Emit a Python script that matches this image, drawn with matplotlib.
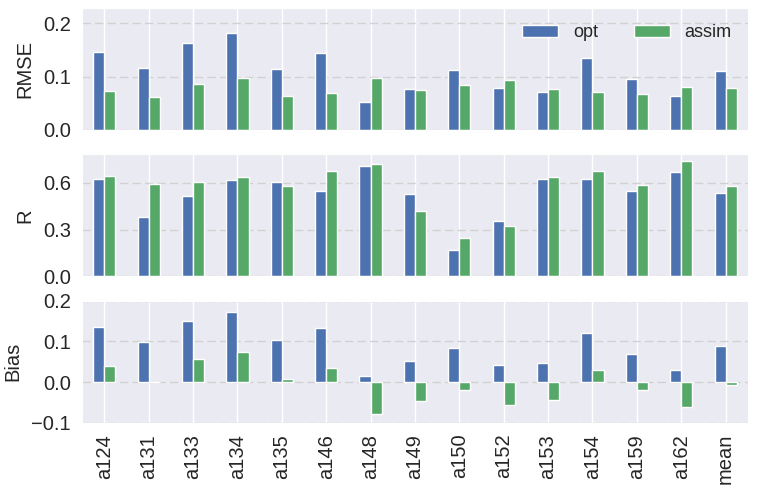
#! /usr/bin/env python3
import numpy as np
import matplotlib
matplotlib.use('Agg')
import matplotlib.pyplot as plt
import seaborn as sns

sites = ['a124', 'a131', 'a133', 'a134', 'a135', 'a146', 'a148', 'a149',
         'a150', 'a152', 'a153', 'a154', 'a159', 'a162', 'mean']

rmse_opt = [0.146, 0.117, 0.163, 0.182, 0.114, 0.145, 0.052, 0.076,
            0.112, 0.079, 0.072, 0.135, 0.096, 0.063, 0.111]
rmse_assim = [0.074, 0.061, 0.086, 0.097, 0.063, 0.070, 0.097, 0.075,
              0.084, 0.094, 0.077, 0.071, 0.067, 0.081, 0.079]

r_opt = [0.625, 0.382, 0.516, 0.618, 0.606, 0.550, 0.710, 0.529,
         0.171, 0.358, 0.627, 0.627, 0.546, 0.670, 0.537]
r_assim = [0.646, 0.593, 0.608, 0.640, 0.582, 0.676, 0.721, 0.418,
           0.243, 0.324, 0.635, 0.676, 0.584, 0.740, 0.578]

bias_opt = [0.136, 0.099, 0.151, 0.173, 0.103, 0.132, 0.014, 0.051,
            0.083, 0.043, 0.046, 0.121, 0.069, 0.031, 0.089]
bias_assim = [0.039, 0.0015, 0.056, 0.075, 0.0074, 0.035, -0.079, -0.047,
              -0.020, -0.055, -0.045, 0.029, -0.020, -0.060, -0.0066]

sns.set_style('darkgrid')
plt.rcParams['font.family'] = ['Liberation Sans', 'DejaVu Sans']
fs = 14.5

blue = '#4C72B0'
green = '#55A868'

fig, axes = plt.subplots(3, 1, figsize=(7.6, 4.98), dpi=100, sharex=True)
fig.subplots_adjust(left=0.108, right=0.984, top=0.984, bottom=0.151, hspace=0.2)

x = np.arange(len(sites))
w = 0.25
panels = [
    ('RMSE', rmse_opt, rmse_assim, (0, 0.229), [0.0, 0.1, 0.2], ['0.0', '0.1', '0.2']),
    ('R', r_opt, r_assim, (0, 0.782), [0.0, 0.3, 0.6], ['0.0', '0.3', '0.6']),
    ('Bias', bias_opt, bias_assim, (-0.1, 0.2), [-0.1, 0.0, 0.1, 0.2],
     ['\u22120.1', '0.0', '0.1', '0.2']),
]

for ax, (name, opt, assim, ylim, yt, ytl) in zip(axes, panels):
    ax.bar(x - w / 2, opt, w, color=blue, label='opt', zorder=2)
    ax.bar(x + w / 2, assim, w, color=green, label='assim', zorder=2)
    ax.set_ylim(*ylim)
    ax.set_yticks(yt)
    ax.set_yticklabels(ytl, fontsize=fs)
    ax.set_ylabel(name, fontsize=fs, labelpad=6.5)
    # dashed horizontal grid, white vertical grid
    ax.yaxis.grid(True, linestyle=(0, (6, 3)), color='0.82', linewidth=1.0)
    ax.xaxis.grid(True, color='white', linewidth=1.0)
    ax.set_axisbelow(True)
    ax.set_xlim(-0.5, len(sites) - 0.5)
    ax.tick_params(axis='both', labelsize=fs, pad=4.4)

axes[0].legend(loc='upper right', ncol=2, frameon=False, fontsize=13,
               handlelength=2.0, columnspacing=2.0, borderaxespad=0.5)
axes[2].set_xticks(x)
axes[2].set_xticklabels(sites, rotation=90, fontsize=fs)

fig.savefig('out.png', dpi=100)
